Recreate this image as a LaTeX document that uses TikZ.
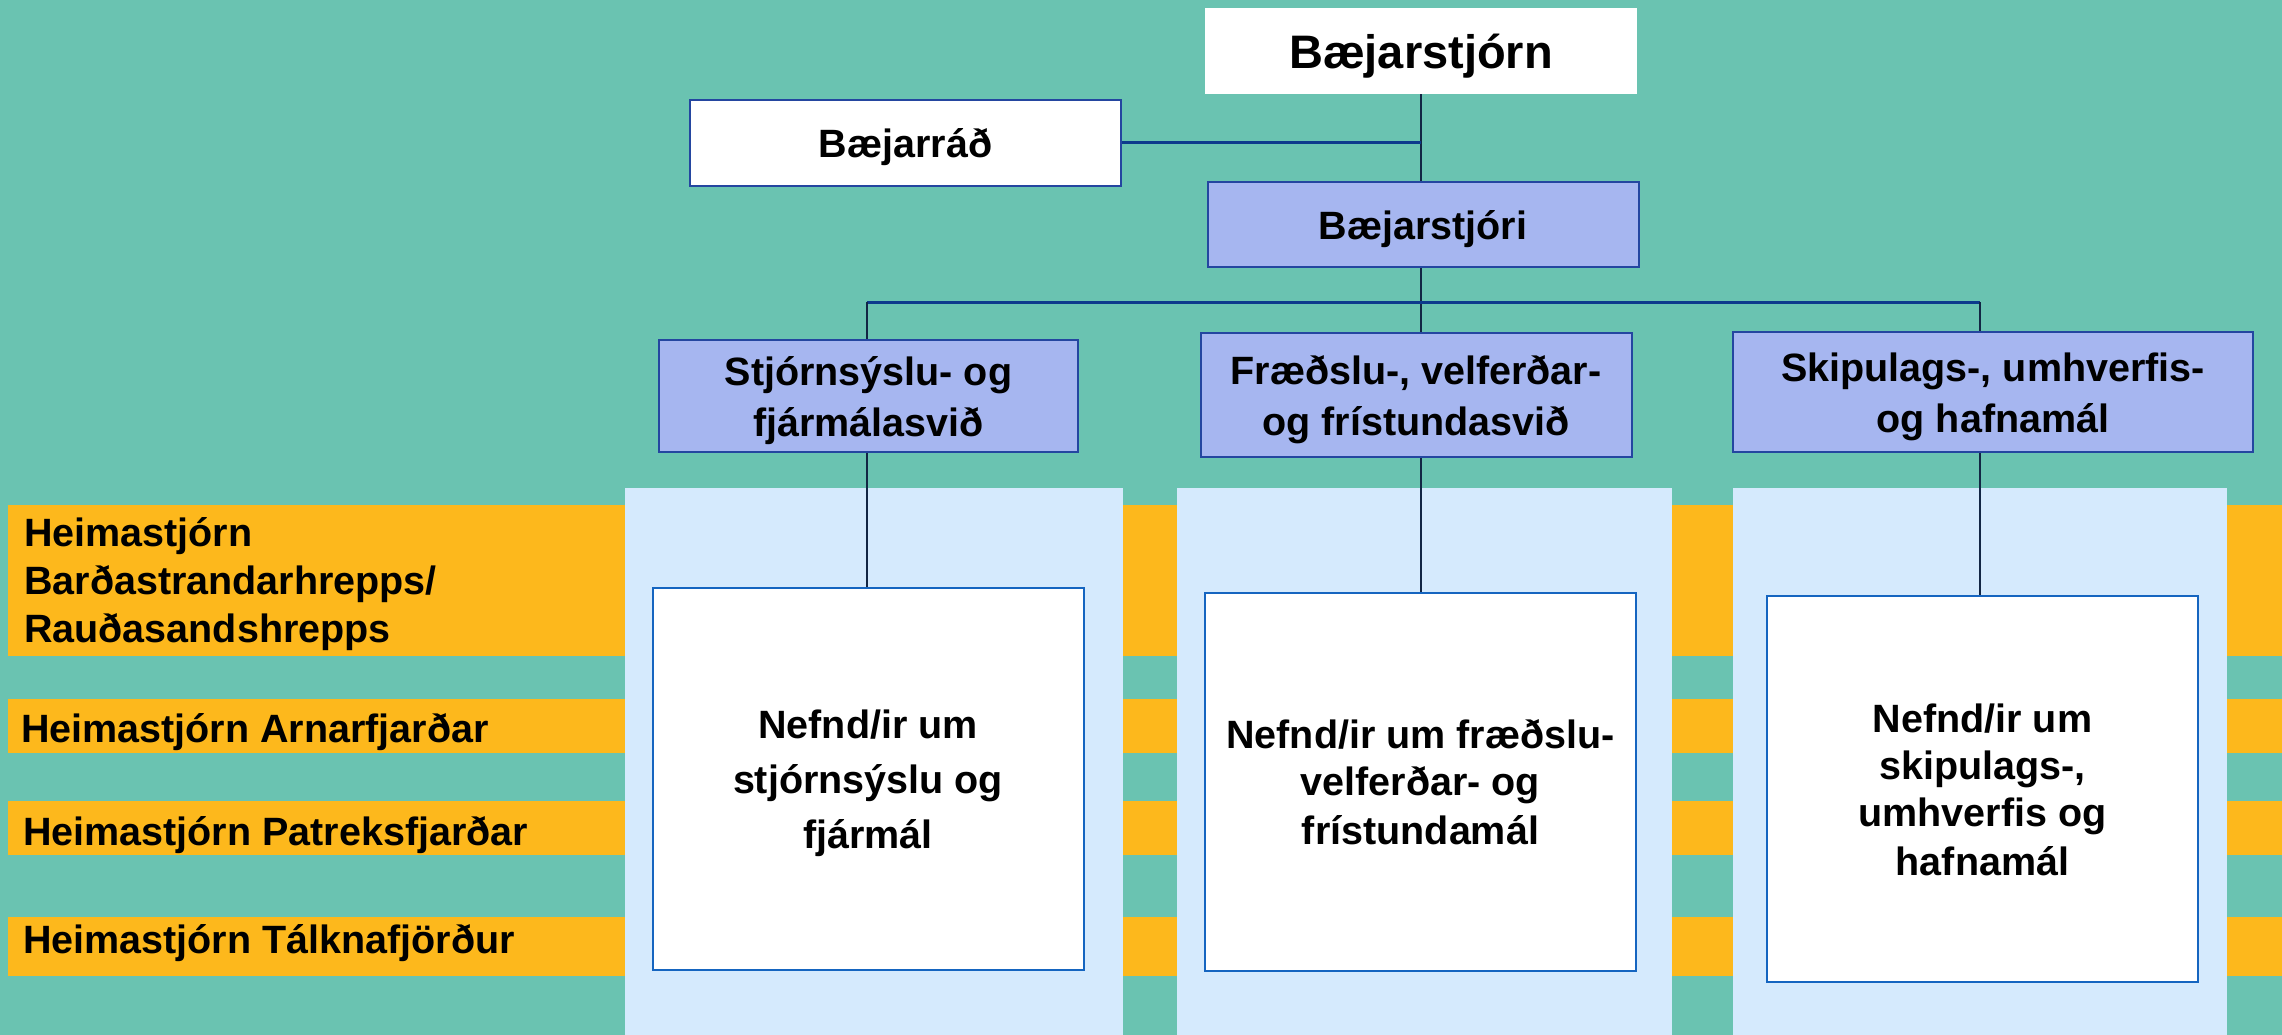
\documentclass[tikz,border=0pt]{standalone}
\usepackage{fontspec}
\setmainfont{Liberation Sans}
\definecolor{bgteal}{RGB}{106,195,177}
\definecolor{bandorange}{RGB}{253,184,28}
\definecolor{colblue}{RGB}{213,234,253}
\definecolor{svidfill}{RGB}{166,182,240}
\definecolor{boxblue}{RGB}{36,70,160}
\definecolor{nefndblue}{RGB}{21,101,192}
\definecolor{linenavy}{RGB}{18,38,68}
\definecolor{lineblue}{RGB}{12,58,140}
\newcommand{\bs}{\rule[-0.25em]{0pt}{1.25em}}
\begin{document}
\begin{tikzpicture}[x=1pt,y=-1pt,
  boxtxt/.style={inner sep=0pt, align=center, font=\bfseries\fontsize{39.5}{47}\selectfont},
  topbox/.style={boxtxt, fill=white, minimum width=432pt, minimum height=86pt},
  raadbox/.style={boxtxt, fill=white, draw=boxblue, line width=2pt, minimum width=431pt, minimum height=86pt},
  svidbox/.style={boxtxt, fill=svidfill, draw=boxblue, line width=2pt},
  nefndbox/.style={boxtxt, fill=white, draw=nefndblue, line width=2pt, minimum width=431pt},
  bandlabel/.style={inner sep=0pt, align=left, font=\bfseries\fontsize{39.5}{47.8}\selectfont},
  vline/.style={draw=linenavy, line width=2.5pt},
  hline/.style={draw=lineblue, line width=3pt}
]
% background
\fill[bgteal] (0,0) rectangle (2282,1035);
\useasboundingbox (0,0) rectangle (2282,1035);
% orange bands
\fill[bandorange] (8,505) rectangle (2282,656);
\fill[bandorange] (8,699) rectangle (2282,753);
\fill[bandorange] (8,801) rectangle (2282,855);
\fill[bandorange] (8,917) rectangle (2282,976);
% light blue columns
\fill[colblue] (625,488) rectangle (1123,1035);
\fill[colblue] (1177,488) rectangle (1672,1035);
\fill[colblue] (1733,488) rectangle (2227,1035);
% band labels
\node[bandlabel, anchor=west] (h1) at (24,584) {Heimastjórn\\Barðastrandarhrepps/\\Rauðasandshrepps};
\node[bandlabel, anchor=base west] (h2) at (21,742) {Heimastjórn Arnarfjarðar};
\node[bandlabel, anchor=base west] (h3) at (23,845) {Heimastjórn Patreksfjarðar};
\node[bandlabel, anchor=base west] (h4) at (23,953) {Heimastjórn Tálknafjörður};
% top boxes
\node[topbox, font=\bfseries\fontsize{47}{56}\selectfont] (bst) at (1421,51) {\bs Bæjarstjórn};
\node[raadbox] (brad) at (905.5,143) {\bs Bæjarráð};
\node[svidbox, minimum width=431pt, minimum height=85pt] (bstjori) at (1423,224.5) {\bs Bæjarstjóri};
% departments
\node[svidbox, minimum width=419pt, minimum height=112pt] (stj) at (868.5,396) {\bs Stjórnsýslu- og\\fjármálasvið\bs};
\node[svidbox, minimum width=431pt, minimum height=124pt] (fraed) at (1416,395) {\bs Fræðslu-, velferðar-\\og frístundasvið\bs};
\node[svidbox, minimum width=520pt, minimum height=120pt] (skip) at (1993,392) {\bs Skipulags-, umhverfis-\\og hafnamál\bs};
% committees
\node[nefndbox, minimum height=382pt, font=\bfseries\fontsize{39.5}{55}\selectfont] (nef1) at (868,779) {\bs Nefnd/ir um\\stjórnsýslu og\\fjármál\bs};
\node[nefndbox, minimum height=378pt] (nef2) at (1420.5,782) {\bs Nefnd/ir um fræðslu-\\velferðar- og\\frístundamál\bs};
\node[nefndbox, minimum height=386pt] (nef3) at (1982.5,789) {\bs Nefnd/ir um\\skipulags-,\\umhverfis og\\hafnamál\bs};
% connector coordinates
\coordinate (spine) at (1421,302);
\coordinate (busL) at (867,302);
\coordinate (busR) at (1980,302);
% connectors
\draw[vline] (bst.south -| spine) -- (spine |- bstjori.north);
\draw[hline] (brad.east) -- (brad.east -| spine);
\draw[vline] (spine |- bstjori.south) -- (spine |- fraed.north);
\draw[hline] (busL) -- (busR);
\draw[vline] (busL) -- (busL |- stj.north);
\draw[vline] (busR) -- (busR |- skip.north);
\draw[vline] (busL |- stj.south) -- (busL |- nef1.north);
\draw[vline] (spine |- fraed.south) -- (spine |- nef2.north);
\draw[vline] (busR |- skip.south) -- (busR |- nef3.north);
\end{tikzpicture}
\end{document}
